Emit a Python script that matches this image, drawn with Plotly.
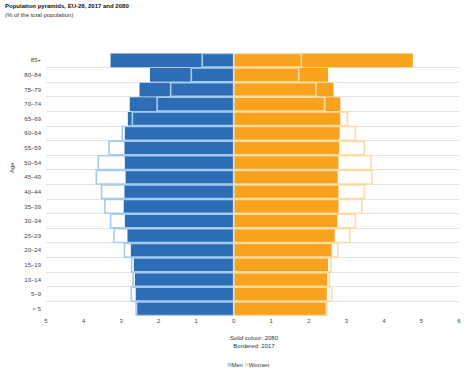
import plotly.graph_objects as go

age_groups = ["< 5", "5–9", "10–14", "15–19", "20–24", "25–29", "30–34", "35–39",
              "40–44", "45–49", "50–54", "55–59", "60–64", "65–69", "70–74",
              "75–79", "80–84", "85+"]
men_2080 = [2.57, 2.61, 2.63, 2.66, 2.74, 2.83, 2.90, 2.93, 2.91, 2.88, 2.90, 2.91,
            2.90, 2.82, 2.77, 2.51, 2.23, 3.28]
men_2017 = [2.60, 2.73, 2.68, 2.72, 2.91, 3.19, 3.28, 3.43, 3.52, 3.66, 3.61, 3.32,
            2.97, 2.70, 2.04, 1.68, 1.13, 0.84]
women_2080 = [2.45, 2.48, 2.49, 2.51, 2.61, 2.69, 2.76, 2.79, 2.79, 2.77, 2.79, 2.81,
              2.82, 2.84, 2.84, 2.66, 2.51, 4.77]
women_2017 = [2.48, 2.61, 2.55, 2.59, 2.77, 3.09, 3.24, 3.41, 3.48, 3.68, 3.66, 3.48,
              3.24, 3.03, 2.42, 2.19, 1.73, 1.80]
x_tick_values = [-5, -4, -3, -2, -1, 0, 1, 2, 3, 4, 5, 6]
x_tick_labels = ["5", "4", "3", "2", "1", "0", "1", "2", "3", "4", "5", "6"]

BLUE = "#2d6db5"
ORANGE = "#f8a21d"
LIGHT_BLUE = "#a6cbef"
LIGHT_ORANGE = "#fddca3"
FONT = "Liberation Sans, Arial, sans-serif"

fig = go.Figure()
fig.add_trace(go.Bar(y=age_groups, x=[-v for v in men_2080], orientation="h",
                     name="Men 2080", marker=dict(color=BLUE, line=dict(width=0)),
                     showlegend=False))
fig.add_trace(go.Bar(y=age_groups, x=women_2080, orientation="h",
                     name="Women 2080", marker=dict(color=ORANGE, line=dict(width=0)),
                     showlegend=False))
fig.add_trace(go.Bar(y=age_groups, x=[-v for v in men_2017], orientation="h",
                     name="Men 2017",
                     marker=dict(color="rgba(0,0,0,0)", line=dict(color=LIGHT_BLUE, width=1.6)),
                     showlegend=False))
fig.add_trace(go.Bar(y=age_groups, x=women_2017, orientation="h",
                     name="Women 2017",
                     marker=dict(color="rgba(0,0,0,0)", line=dict(color=LIGHT_ORANGE, width=1.6)),
                     showlegend=False))

fig.update_layout(
    width=468, height=373,
    margin=dict(l=46, r=7, t=53, b=57),
    barmode="overlay", bargap=0.06,
    plot_bgcolor="white", paper_bgcolor="white",
    font=dict(family=FONT, size=6, color="#444"),
    xaxis=dict(range=[-5, 6], tickvals=x_tick_values, ticktext=x_tick_labels,
               showgrid=False, zeroline=True, zerolinecolor="#4a6a90", zerolinewidth=1,
               showline=False, ticks="", tickfont=dict(size=6, color="#444"), fixedrange=True),
    yaxis=dict(type="category", categoryorder="array", categoryarray=age_groups,
               tickson="boundaries", showgrid=True, gridcolor="#e3e3e3", gridwidth=1,
               ticks="", showline=False, ticklabelstandoff=4,
               tickfont=dict(size=6, color="#444")),
    annotations=[
        dict(text="<b>Population pyramids, EU-28, 2017 and 2080</b>", xref="paper", yref="paper",
             x=-0.104, y=1.177, xanchor="left", yanchor="middle", showarrow=False,
             font=dict(size=6, color="#111", family=FONT)),
        dict(text="(% of the total population)", xref="paper", yref="paper",
             x=-0.104, y=1.143, xanchor="left", yanchor="middle", showarrow=False,
             font=dict(size=6, color="#333", family=FONT)),
        dict(text="Age", xref="paper", yref="paper", x=-0.082, y=0.563, textangle=-90,
             xanchor="center", yanchor="middle", showarrow=False,
             font=dict(size=6, color="#333", family=FONT)),
        dict(text="Solid colour: 2080<br>Bordered: 2017", xref="paper", yref="paper",
             x=0.504, y=-0.098, xanchor="center", yanchor="middle", showarrow=False,
             font=dict(size=6, color="#333", family=FONT)),
        dict(text=f"<span style='color:{LIGHT_BLUE};font-size:7px'>■</span>Men "
                  f"<span style='color:{LIGHT_ORANGE};font-size:7px'>■</span>Women",
             xref="paper", yref="paper", x=0.489, y=-0.183, xanchor="center",
             yanchor="middle", showarrow=False, font=dict(size=6, color="#333", family=FONT)),
    ],
)

fig.write_html("out.html", config={"displayModeBar": False},
               post_script="document.body.style.margin='0';")
